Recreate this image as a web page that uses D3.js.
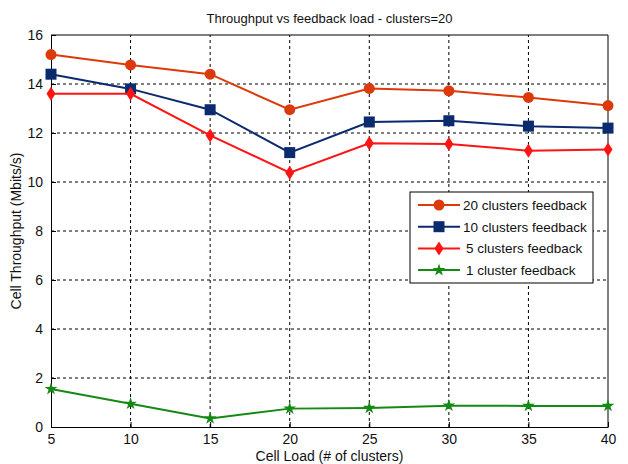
<!DOCTYPE html>
<html>
<head>
<meta charset="utf-8">
<script src="https://cdn.jsdelivr.net/npm/d3@7"></script>
<style>
  body { margin: 0; background: #fff; }
  svg { display: block; font-family: "Liberation Sans Narrow", "Arial Narrow", "Liberation Sans", Arial, sans-serif; }
  .grid line { stroke: #000; stroke-dasharray: 3,3; stroke-width: 1; }
  .axis text { font-size: 14px; fill: #111; }
</style>
</head>
<body>
<svg id="chart"></svg>
<script>
const loads = [5, 10, 15, 20, 25, 30, 35, 40]
const xTicks = [5, 10, 15, 20, 25, 30, 35, 40]
const yTicks = [0, 2, 4, 6, 8, 10, 12, 14, 16]

const fb20 = [15.2, 14.78, 14.4, 12.95, 13.82, 13.72, 13.45, 13.12]
const fb10 = [14.4, 13.8, 12.95, 11.2, 12.45, 12.5, 12.28, 12.2]
const fb5 = [13.6, 13.6, 11.9, 10.38, 11.58, 11.55, 11.28, 11.33]
const fb1 = [1.55, 0.95, 0.35, 0.75, 0.78, 0.87, 0.86, 0.86]

const seriesNames = ["20 clusters feedback", "10 clusters feedback", "5 clusters feedback", "1 cluster feedback"]
const seriesValues = [fb20, fb10, fb5, fb1]
const seriesColors = ["#dd3a0c", "#0c2a6e", "#ff1414", "#148a14"]
const seriesMarkers = ["circle", "square", "diamond", "star"]

const width = 628, height = 464
const margin = { top: 35, right: 20, bottom: 37, left: 51 }

const svg = d3.select('#chart').attr('width', width).attr('height', height)

const x = d3.scaleLinear().domain([5, 40]).range([margin.left, width - margin.right])
const y = d3.scaleLinear().domain([0, 16]).range([height - margin.bottom, margin.top])

// grid
const grid = svg.append('g').attr('class', 'grid')
grid.selectAll('.gx').data(xTicks.slice(1, -1)).join('line')
    .attr('x1', d => x(d)).attr('x2', d => x(d))
    .attr('y1', y(0)).attr('y2', y(16))
grid.selectAll('.gy').data(yTicks.slice(1, -1)).join('line')
    .attr('x1', x(5)).attr('x2', x(40))
    .attr('y1', d => y(d)).attr('y2', d => y(d))

// axes
const xAxis = svg.append('g').attr('class', 'axis')
    .attr('transform', `translate(0, ${y(0)})`)
    .call(d3.axisBottom(x).tickValues(xTicks).tickSize(-5).tickPadding(9).tickSizeOuter(0))
const yAxis = svg.append('g').attr('class', 'axis')
    .attr('transform', `translate(${x(5)}, 0)`)
    .call(d3.axisLeft(y).tickValues(yTicks).tickSize(-5).tickPadding(8).tickSizeOuter(0))
svg.selectAll('.axis .domain').attr('stroke', '#000')
svg.selectAll('.axis .tick line').attr('stroke', '#000')
xAxis.selectAll('text').attr('dy', '0.6em')

// box top/right
svg.append('line').attr('x1', x(5)).attr('x2', x(40)).attr('y1', y(16)).attr('y2', y(16)).attr('stroke', '#000')
svg.append('line').attr('x1', x(40)).attr('x2', x(40)).attr('y1', y(16)).attr('y2', y(0)).attr('stroke', '#000')

// labels
svg.append('text').attr('x', (x(5) + x(40)) / 2).attr('y', 23).attr('text-anchor', 'middle')
    .attr('font-size', 13).attr('fill', '#111').text('Throughput vs feedback load - clusters=20')
svg.append('text').attr('x', (x(5) + x(40)) / 2).attr('y', 461).attr('text-anchor', 'middle')
    .attr('font-size', 14).attr('fill', '#111').text('Cell Load (# of clusters)')
svg.append('text').attr('transform', `translate(21, ${(y(0) + y(16)) / 2}) rotate(-90)`)
    .attr('text-anchor', 'middle').attr('font-size', 14).attr('fill', '#111').text('Cell Throughput (Mbits/s)')

function marker(g, type, color) {
    if (type === 'circle') g.append('circle').attr('r', 5.5).attr('fill', color)
    else if (type === 'square') g.append('rect').attr('x', -5.5).attr('y', -5.5).attr('width', 11).attr('height', 11).attr('fill', color)
    else if (type === 'diamond') g.append('path').attr('d', 'M0,-7L4.5,0L0,7L-4.5,0Z').attr('fill', color)
    else g.append('path').attr('d', d3.symbol(d3.symbolStar, 50)()).attr('fill', color)
}

const line = d3.line().x((d, i) => x(loads[i])).y(d => y(d))

seriesValues.forEach((vals, s) => {
    const g = svg.append('g')
    g.append('path').datum(vals).attr('d', line).attr('fill', 'none')
        .attr('stroke', seriesColors[s]).attr('stroke-width', 2)
    vals.forEach((v, i) => {
        const m = g.append('g').attr('transform', `translate(${x(loads[i])}, ${y(v)})`)
        marker(m, seriesMarkers[s], seriesColors[s])
    })
})

// legend
const lg = svg.append('g').attr('transform', 'translate(410, 192)')
lg.append('rect').attr('width', 183).attr('height', 91).attr('fill', '#fff').attr('stroke', '#000')
seriesNames.forEach((name, s) => {
    const row = lg.append('g').attr('transform', `translate(0, ${13 + s * 21.7})`)
    row.append('line').attr('x1', 8).attr('x2', 50).attr('stroke', seriesColors[s]).attr('stroke-width', 2)
    marker(row.append('g').attr('transform', 'translate(29, 0)'), seriesMarkers[s], seriesColors[s])
    row.append('text').attr('x', s < 2 ? 53 : 56).attr('y', 5).attr('font-size', 13.5).attr('fill', '#111').text(name)
})
</script>
</body>
</html>
